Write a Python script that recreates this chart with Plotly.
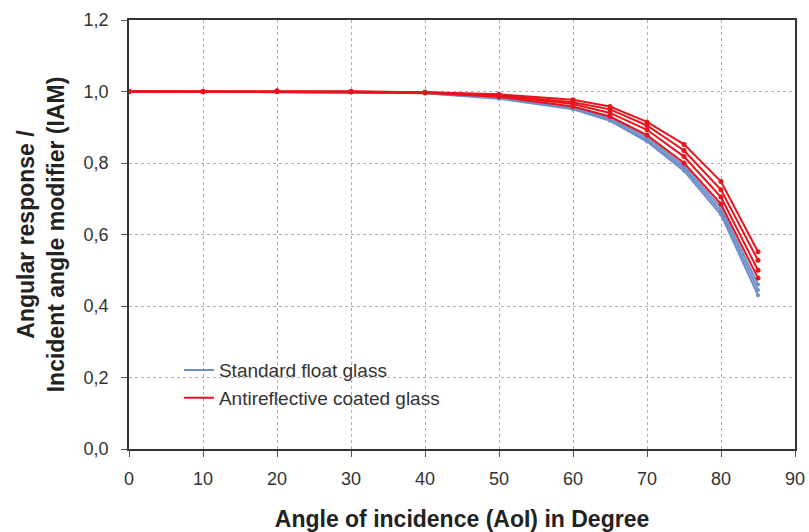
import plotly.graph_objects as go

angles = [0, 10, 20, 30, 40, 50, 60, 65, 70, 75, 80, 85]

standard_float = [
    [1.0, 0.999, 1.0, 0.999, 0.996, 0.984, 0.955, 0.927, 0.872, 0.792, 0.675, 0.460],
    [1.0, 0.999, 1.0, 0.999, 0.995, 0.982, 0.952, 0.922, 0.865, 0.785, 0.665, 0.445],
    [1.0, 0.999, 1.0, 0.998, 0.995, 0.980, 0.950, 0.918, 0.860, 0.778, 0.655, 0.430],
]
antireflective = [
    [1.0, 1.0, 1.002, 1.0, 0.998, 0.992, 0.977, 0.958, 0.915, 0.852, 0.748, 0.552],
    [1.0, 1.0, 1.001, 1.0, 0.998, 0.990, 0.970, 0.950, 0.905, 0.835, 0.725, 0.528],
    [1.0, 1.0, 1.001, 0.999, 0.997, 0.988, 0.965, 0.940, 0.893, 0.818, 0.705, 0.500],
    [1.0, 0.999, 1.0, 0.999, 0.996, 0.985, 0.958, 0.930, 0.878, 0.800, 0.685, 0.478],
]

x_ticks = list(range(0, 91, 10))
y_ticks = [0.0, 0.2, 0.4, 0.6, 0.8, 1.0, 1.2]

blue = "#6f8fc9"
red = "#e8141c"

fig = go.Figure()
for s in standard_float:
    fig.add_trace(go.Scatter(
        x=angles, y=s, mode="lines+markers", showlegend=False,
        line=dict(color=blue, width=2), marker=dict(color=blue, size=4)))
for s in antireflective:
    fig.add_trace(go.Scatter(
        x=angles, y=s, mode="lines+markers", showlegend=False,
        line=dict(color=red, width=2), marker=dict(color=red, size=5)))

# legend entries (line only, as in the original)
fig.add_trace(go.Scatter(x=[None], y=[None], mode="lines", name="Standard float glass",
                         line=dict(color=blue, width=2)))
fig.add_trace(go.Scatter(x=[None], y=[None], mode="lines", name="Antireflective coated glass",
                         line=dict(color=red, width=2)))

axis_common = dict(
    showline=True, linecolor="#333333", linewidth=1.5, mirror=True,
    ticks="outside", ticklen=6, tickcolor="#555555",
    showgrid=True, gridcolor="#b0b0b0", griddash="dot", gridwidth=1,
    zeroline=False, automargin=False,
    tickfont=dict(family="Arial, Liberation Sans", size=18, color="#333333"),
)

fig.update_layout(
    width=809, height=532,
    margin=dict(l=129, r=14, t=20, b=83),
    paper_bgcolor="white", plot_bgcolor="white",
    separators=",.",
    font=dict(family="Arial, Liberation Sans", color="#222222"),
    xaxis=dict(range=[0, 90], tickvals=x_ticks, ticklabelstandoff=7, **axis_common,
               title=dict(text="<b>Angle of incidence (AoI) in Degree</b>",
                          font=dict(size=23, color="#222222"), standoff=24)),
    yaxis=dict(range=[0, 1.2], tickvals=y_ticks, tickformat=".1f", ticklabelstandoff=9,
               **axis_common,
               title=dict(text="<b>Angular response /<br>Incident angle modifier (IAM)</b>",
                          font=dict(size=23, color="#222222"), standoff=13)),
    legend=dict(x=0.075, y=0.228, xanchor="left", yanchor="top",
                bgcolor="rgba(255,255,255,0)", traceorder="normal",
                font=dict(size=19, color="#333333"), itemwidth=30,
                tracegroupgap=0),
)

fig.write_html("out.html")
